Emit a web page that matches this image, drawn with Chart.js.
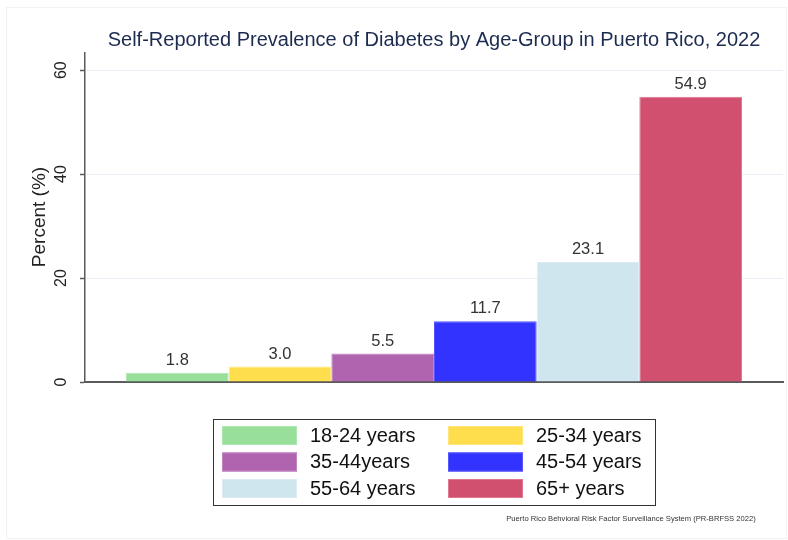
<!DOCTYPE html>
<html>
<head>
<meta charset="utf-8">
<script src="https://cdn.jsdelivr.net/npm/chart.js@4/dist/chart.umd.min.js"></script>
<style>
  html, body { margin: 0; padding: 0; background: #ffffff; }
  #wrap { width: 788px; height: 540px; position: relative; }
</style>
</head>
<body>
<div id="wrap"><canvas id="chart" width="788" height="540"></canvas></div>
<script>
// Self-reported diabetes prevalence (%) by age group, Puerto Rico 2022
const ageGroups = ['18-24 years', '25-34 years', '35-44years', '45-54 years', '55-64 years', '65+ years'];
const prevalence = [1.8, 3.0, 5.5, 11.7, 23.1, 54.9];
const yTicks = [0, 20, 40, 60];

const barColors = ['#98df9a', '#ffde4d', '#b064b0', '#3333ff', '#cfe6ee', '#d2506f'];
const barEdges  = ['#aee6b0', '#ffe57a', '#c284c2', '#5656ff', '#dbedf3', '#de7790'];

const FONT = '"Liberation Sans", Arial, Helvetica, sans-serif';

const datasets = ageGroups.map((g, i) => ({
  label: g,
  data: [prevalence[i]],
  backgroundColor: barColors[i],
  borderColor: barEdges[i],
  borderWidth: 1,
  categoryPercentage: 0.8825,
  barPercentage: 1.0
}));

// Titles, rotated tick labels, value labels, legend box and source note
const decorations = {
  id: 'decorations',
  beforeDraw(chart) {
    const ctx = chart.ctx;
    ctx.save();
    ctx.strokeStyle = '#f2f2f2';
    ctx.lineWidth = 1;
    ctx.strokeRect(6.5, 7.5, 780, 531);
    ctx.restore();
  },
  afterDraw(chart) {
    const ctx = chart.ctx;
    const area = chart.chartArea;
    const y = chart.scales.y;
    ctx.save();

    // chart title
    ctx.fillStyle = '#1c2b4f';
    ctx.font = '20px ' + FONT;
    ctx.textAlign = 'center';
    ctx.textBaseline = 'middle';
    ctx.fillText('Self-Reported Prevalence of Diabetes by Age-Group in Puerto Rico, 2022', 434, 40);

    // y tick labels, vertical
    ctx.fillStyle = '#222222';
    ctx.font = '16px ' + FONT;
    y.ticks.forEach(t => {
      const py = y.getPixelForValue(t.value);
      ctx.save();
      ctx.translate(62, py);
      ctx.rotate(-Math.PI / 2);
      ctx.textAlign = 'center';
      ctx.textBaseline = 'middle';
      ctx.fillText(String(t.value), 0, 0);
      ctx.restore();
    });

    // y axis title
    ctx.save();
    ctx.translate(40, 217);
    ctx.rotate(-Math.PI / 2);
    ctx.textAlign = 'center';
    ctx.textBaseline = 'middle';
    ctx.font = '19px ' + FONT;
    ctx.fillText('Percent (%)', 0, 0);
    ctx.restore();

    // value labels above the bars
    ctx.fillStyle = '#333333';
    ctx.font = '16.5px ' + FONT;
    ctx.textAlign = 'center';
    ctx.textBaseline = 'bottom';
    chart.data.datasets.forEach((ds, i) => {
      const bar = chart.getDatasetMeta(i).data[0];
      ctx.fillText(ds.data[0].toFixed(1), bar.x, bar.y - 4);
    });

    // legend box, two columns
    ctx.strokeStyle = '#333333';
    ctx.lineWidth = 1;
    ctx.strokeRect(213.5, 419.5, 442, 86);
    ctx.font = '20px ' + FONT;
    ctx.textAlign = 'left';
    ctx.textBaseline = 'middle';
    chart.data.datasets.forEach((ds, i) => {
      const col = i % 2, row = Math.floor(i / 2);
      const sx = col === 0 ? 222 : 448;
      const sy = 426 + row * 26.5;
      ctx.fillStyle = ds.backgroundColor;
      ctx.fillRect(sx, sy, 75, 19);
      ctx.strokeStyle = ds.borderColor;
      ctx.strokeRect(sx + 0.5, sy + 0.5, 74, 18);
      ctx.fillStyle = '#111111';
      ctx.fillText(ds.label, sx + 88, sy + 10);
    });

    // source note
    ctx.fillStyle = '#333333';
    ctx.font = '7.6px ' + FONT;
    ctx.textAlign = 'center';
    ctx.fillText('Puerto Rico Behvioral Risk Factor Surveillance System (PR-BRFSS 2022)', 631, 519);

    ctx.restore();
  }
};

new Chart(document.getElementById('chart'), {
  type: 'bar',
  data: { labels: [''], datasets },
  options: {
    responsive: false,
    animation: false,
    devicePixelRatio: 1,
    layout: { padding: { left: 0, top: 53, right: 5, bottom: 158 } },
    plugins: {
      legend: { display: false },
      title: { display: false },
      tooltip: { enabled: false }
    },
    scales: {
      x: {
        type: 'category',
        ticks: { display: false },
        grid: { display: false, drawTicks: false },
        border: { display: true, color: '#5a5a5a', width: 2 },
        afterFit(scale) { scale.height = 0; }
      },
      y: {
        min: 0,
        max: 63.3,
        ticks: { display: false, stepSize: 20, includeBounds: false },
        afterBuildTicks(scale) { scale.ticks = yTicks.map(v => ({ value: v })); },
        grid: {
          color: '#e9eff4',
          lineWidth: 1,
          drawTicks: true,
          tickLength: 5,
          tickColor: '#5a5a5a',
          tickWidth: 1.5
        },
        border: { display: true, color: '#5a5a5a', width: 1.5 },
        afterFit(scale) { scale.width = 85; }
      }
    }
  },
  plugins: [decorations]
});
</script>
</body>
</html>
